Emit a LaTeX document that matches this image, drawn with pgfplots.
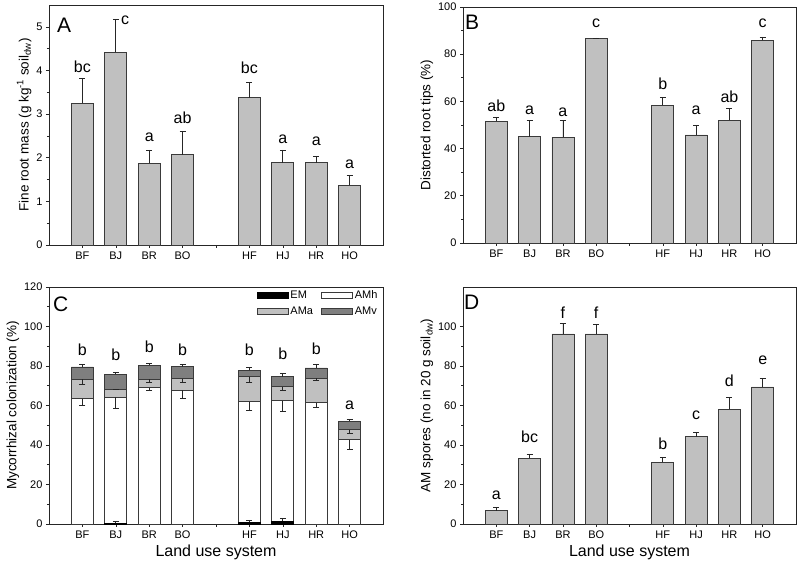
\documentclass[border=0pt]{standalone}
\usepackage{pgfplots}
\pgfplotsset{compat=1.18}
\usepackage{fontspec}
\setmainfont{Liberation Sans}
\definecolor{barfill}{HTML}{C0C0C0}
\definecolor{baredge}{HTML}{3A3A3A}
\definecolor{darkfill}{HTML}{7F7F7F}
\tikzset{panellab/.style={anchor=north west, inner sep=0pt, font=\fontsize{21}{24}\selectfont}}
\pgfplotsset{
  panel/.style={
    scale only axis, anchor=south west,
    xmin=0, xmax=10, xtick={1,...,9},
    xticklabels={BF,BJ,BR,BO,{},HF,HJ,HR,HO},
    tick pos=left, tick align=outside,
    major tick length=3pt, minor tick length=2pt,
    axis line style={line width=0.8pt, black!85},
    every tick/.style={black!85, line width=0.6pt},
    tick label style={font=\fontsize{11}{13}\selectfont},
    ylabel style={font=\fontsize{13.5}{15}\selectfont, yshift=-2pt},
    xlabel style={font=\fontsize{16}{18}\selectfont},
    /pgf/number format/assume math mode=true,
    ymin=0, minor y tick num=1, clip=false,
  },
  mybar/.style={ybar, bar width=22pt, bar shift=0pt, fill=barfill, draw=baredge, line width=0.8pt},
  myerr/.style={/pgfplots/error bars/y dir=plus, /pgfplots/error bars/y explicit,
    /pgfplots/error bars/error bar style={line width=0.7pt, black!85, solid},
    /pgfplots/error bars/error mark options={rotate=90, mark size=3pt, line width=0.7pt, black!85}},
  myerrm/.style={/pgfplots/error bars/y dir=minus, /pgfplots/error bars/y explicit,
    /pgfplots/error bars/error bar style={line width=0.7pt, black!85, solid},
    /pgfplots/error bars/error mark options={rotate=90, mark size=3pt, line width=0.7pt, black!85}},
  errline/.style={draw=none, mark=none, forget plot},
  letters/.style={draw=none, mark=none, nodes near coords, point meta=explicit symbolic,
    nodes near coords align={center},
    every node near coord/.append style={font=\fontsize{16}{18}\selectfont, inner sep=0pt, black}},
}
\begin{document}
\begin{tikzpicture}
\useasboundingbox (0,0) rectangle (798pt,564pt);
% ---------------- A
\begin{axis}[panel, at={(49pt,319pt)}, width=334pt, height=240pt,
  ymax=5.5, ytick={0,1,...,5},
  ylabel={Fine root mass (g kg\textsuperscript{-1} soil\textsubscript{dw})}]
\addplot[mybar, myerr] table[x=x, y=y, y error=e] {
x y e
1 3.25 0.58
2 4.42 0.75
3 1.87 0.31
4 2.07 0.54
6 3.38 0.35
7 1.89 0.29
8 1.89 0.14
9 1.37 0.23
};
\addplot[letters] table[x=x, y=y, meta=l] {
x y l
1 4.08 bc
2.28 5.15 c
3 2.46 a
4 2.92 ab
6 4.05 bc
7 2.42 a
8 2.38 a
9 1.85 a
};
\node[panellab] at (rel axis cs:0.024,0.946) {A};
\end{axis}
% ---------------- B
\begin{axis}[panel, at={(463pt,321pt)}, width=333pt, height=236pt,
  ymax=100, ytick={0,20,...,100},
  ylabel={Distorted root tips (\%)}]
\addplot[mybar, myerr] table[x=x, y=y, y error=e] {
x y e
1 51.6 1.7
2 45.1 7.0
3 44.7 7.4
4 86.5 0.4
6 58.3 3.4
7 45.8 3.9
8 52.1 4.8
9 86.0 1.3
};
\addplot[letters] table[x=x, y=y, meta=l] {
x y l
1 58.0 ab
2 56.3 a
3 55.6 a
4 93.0 c
6 67.6 b
7 56.3 a
8 62.0 ab
9 93.0 c
};
\node[panellab] at (rel axis cs:0.006,0.966) {B};
\end{axis}
% ---------------- C
\begin{axis}[panel, at={(49pt,40pt)}, width=334pt, height=237pt,
  ymax=120, ytick={0,20,...,120},
  ylabel={Mycorrhizal colonization (\%)},
  xlabel={Land use system},
  legend columns=2,
  legend image code/.code={\draw[#1] (0pt,-3pt) rectangle (31pt,3pt);},
  legend style={at={(rel axis cs:0.99,0.995)}, anchor=north east, draw=none, fill=none,
    font=\fontsize{11}{13}\selectfont, inner sep=0pt, row sep=3pt,
    /tikz/every even column/.append style={column sep=6pt}},
  legend cell align=left]
\addlegendimage{fill=black, draw=black, line width=0.8pt}
\addlegendentry{EM}
\addlegendimage{fill=white, draw=baredge, line width=0.8pt}
\addlegendentry{AMh}
\addlegendimage{fill=barfill, draw=baredge, line width=0.8pt}
\addlegendentry{AMa}
\addlegendimage{fill=darkfill, draw=baredge, line width=0.8pt}
\addlegendentry{AMv}
% cumulative tops of the stacked segments
\addplot[mybar, fill=darkfill, forget plot] table[x=x, y=v] {
x v
1 79.5
2 75.9
3 80.5
4 79.7
6 77.9
7 74.6
8 79.0
9 52.0
};
\addplot[mybar, fill=barfill, forget plot] table[x=x, y=a] {
x a
1 73.2
2 68.3
3 73.2
4 73.6
6 74.6
7 69.5
8 73.7
9 47.8
};
\addplot[mybar, fill=white, forget plot] table[x=x, y=h] {
x h
1 63.5
2 64.2
3 69.0
4 67.6
6 61.9
7 62.4
8 61.4
9 42.7
};
\addplot[mybar, fill=black, draw=black, forget plot] table[x=x, y=m] {
x m
2 0.5
6 1.0
7 1.5
};
% error bars
\addplot[errline, myerr] table[x=x, y=v, y error=e] {
x v e
1 79.5 1.5
2 75.9 0.9
3 80.5 1.0
4 79.7 1.3
6 77.9 1.6
7 74.6 1.5
8 79.0 2.0
9 52.0 1.2
};
\addplot[errline, myerrm] table[x=x, y=a, y error=e] {
x a e
1 73.2 2.5
2 68.3 0.3
3 73.2 1.7
4 73.6 2.1
6 74.6 2.8
7 69.5 1.9
8 73.7 0.8
9 47.8 2.0
};
\addplot[errline, myerrm] table[x=x, y=h, y error=e] {
x h e
1 63.5 3.5
2 64.2 5.7
3 69.0 1.4
4 67.6 4.2
6 61.9 4.3
7 62.4 5.3
8 61.4 2.4
9 42.7 5.1
};
\addplot[errline, myerr] table[x=x, y=m, y error=e] {
x m e
2 0.5 1.0
6 1.0 0.9
7 1.5 1.2
};
\addplot[letters, forget plot] table[x=x, y=y, meta=l] {
x y l
1 88.2 b
2 85.7 b
3 89.6 b
4 88.2 b
6 88.2 b
7 86.0 b
8 88.7 b
9 60.3 a
};
\node[panellab] at (rel axis cs:0.012,0.959) {C};
\end{axis}
% ---------------- D
\begin{axis}[panel, at={(463pt,40pt)}, width=333pt, height=237pt,
  ymax=120, ytick={0,20,...,100},
  ylabel={AM spores (no in 20 g soil\textsubscript{dw})},
  xlabel={Land use system}]
\addplot[mybar, myerr] table[x=x, y=y, y error=e] {
x y e
1 6.7 1.5
2 33.2 2.2
3 96.2 5.5
4 96.2 5.0
6 31.2 2.5
7 44.1 2.3
8 58.2 6.1
9 69.4 4.2
};
\addplot[letters] table[x=x, y=y, meta=l] {
x y l
1 14.6 a
2 44.1 bc
3 107.2 f
4 107.2 f
6 40.7 b
7 55.0 c
8 72.7 d
9 82.8 e
};
\node[panellab] at (rel axis cs:0.003,0.966) {D};
\end{axis}
\end{tikzpicture}
\end{document}
